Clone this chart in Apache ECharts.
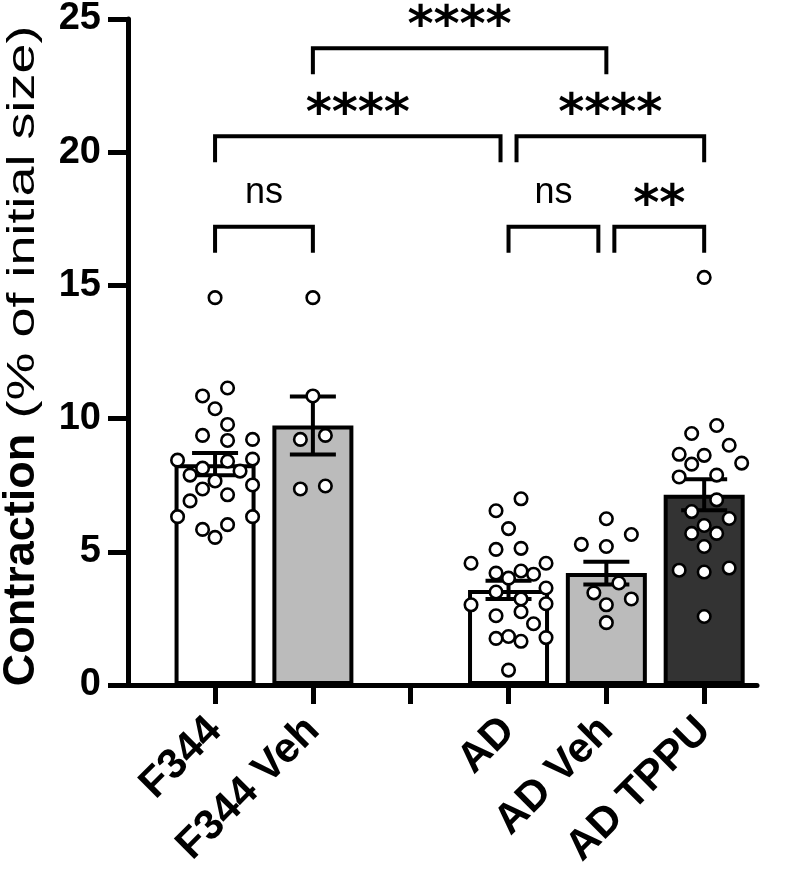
<!DOCTYPE html>
<html><head><meta charset="utf-8">
<script src="https://cdn.jsdelivr.net/npm/echarts@6/dist/echarts.min.js"></script>
<style>html,body{margin:0;padding:0;background:#fff}#c{width:800px;height:873px}</style>
</head><body><div id="c"></div>
<script>
// ---------- data ----------
const categories = ['F344', 'F344 Veh', '', 'AD', 'AD Veh', 'AD TPPU'];
const groupIndex = [0, 1, 3, 4, 5];
const barMeans = [8.29, 9.74, 3.57, 4.20, 7.14];
const barSEM = [0.42, 1.09, 0.34, 0.43, 0.58];
const barColors = ['#ffffff', '#bbbbbb', '#ffffff', '#bbbbbb', '#333333'];
const f344Points = [14.54, 11.15, 10.85, 10.37, 9.78, 9.37, 9.18, 9.22, 8.48, 8.40, 8.44, 8.03,
  8.14, 7.66, 7.88, 7.36, 7.51, 7.14, 6.91, 6.32, 6.32, 6.02, 5.84, 5.54];
const f344VehPoints = [14.54, 10.85, 9.22, 9.37, 7.36, 7.47];
const adPoints = [6.99, 6.54, 5.87, 5.09, 5.13, 4.57, 4.57, 4.20, 4.28, 4.16, 4.01, 3.64,
  3.49, 3.23, 3.01, 3.05, 2.60, 2.75, 2.30, 1.78, 1.64, 1.75, 1.82, 0.56];
const adVehPoints = [6.24, 5.65, 5.28, 5.20, 3.83, 3.46, 3.23, 3.01, 2.34];
const adTppuPoints = [15.30, 9.74, 9.44, 9.00, 8.62, 8.66, 8.33, 8.29, 7.81, 7.88, 6.95, 6.51,
  6.25, 5.99, 5.69, 5.69, 5.20, 4.39, 4.24, 4.31, 2.57];
const yTicks = [0, 5, 10, 15, 20, 25];
const bracketFrom = [1, 0, 3, 0, 3, 4];
const bracketTo = [4, 3, 5, 1, 4, 5];
const bracketY = [23.9, 20.6, 20.6, 17.2, 17.2, 17.2];
const bracketLabel = ['****', '****', '****', 'ns', 'ns', '**'];
const yTitleBold = 'Contraction';
const yTitleRest = '(% of initial size)';

// ---------- layout ----------
const W = 800, H = 873;
const GRID = { left: 128, top: 15, right: 43, bottom: 188 };
const X_MIN = -0.89, X_MAX = 5.54;
const gridW = W - GRID.left - GRID.right, gridH = H - GRID.top - GRID.bottom;
const pxX = gridW / (X_MAX - X_MIN), pxY = gridH / 25;
const FONT = '"Liberation Sans", Arial, sans-serif';

// row-based symmetric scatter placement (deterministic, computed from the values)
function swarm(values, center) {
  const step = 12.5, D = 14.5, R = 13, MAXN = 4, LIM = 3.05;
  const sorted = values.slice().sort((a, b) => b - a);
  const rows = [];
  sorted.forEach(v => {
    const r = rows[rows.length - 1];
    if (r && r.length < MAXN && (r[0] - v) * pxY < R) r.push(v); else rows.push([v]);
  });
  const placed = [], out = [];
  rows.forEach(row => {
    const n = row.length;
    const cands = [];
    [2, 3].forEach(sp => {
      const b = [];
      for (let i = 0; i < n; i++) b.push((i - (n - 1) / 2) * sp);
      const sl = b.sort((a, c) => Math.abs(c) - Math.abs(a) || c - a);
      [0, 1, -1, 2, -2, 3, -3].forEach(s => cands.push(sl.map(o => o + s)));
    });
    let best = null, bestScore = -1;
    for (const c of cands) {
      if (c.some(o => Math.abs(o) > LIM)) continue;
      let md = Infinity;
      c.forEach((o, i) => {
        const x = o * step, y = row[i] * pxY;
        placed.forEach(p => { md = Math.min(md, Math.hypot(p.x - x, p.y - y)); });
      });
      if (md >= D) { best = c; break; }
      if (md > bestScore) { bestScore = md; best = c; }
    }
    best.forEach((o, i) => {
      placed.push({ x: o * step, y: row[i] * pxY });
      out.push([center + o * step / pxX, row[i]]);
    });
  });
  return out;
}
const pointGroups = [f344Points, f344VehPoints, adPoints, adVehPoints, adTppuPoints];
let scatterData = [];
pointGroups.forEach((g, gi) => { scatterData = scatterData.concat(swarm(g, groupIndex[gi])); });

const barData = barMeans.map((m, i) => ({
  value: [groupIndex[i], m],
  itemStyle: { color: barColors[i] }
}));
const errData = barMeans.map((m, i) => [groupIndex[i], m, barSEM[i]]);
const bracketData = bracketFrom.map((f, i) => [f, bracketTo[i], bracketY[i]]);

const chart = echarts.init(document.getElementById('c'), null, { renderer: 'canvas' });
chart.setOption({
  backgroundColor: '#ffffff',
  animation: false,
  grid: GRID,
  xAxis: {
    type: 'value', min: X_MIN, max: X_MAX,
    splitLine: { show: false },
    axisLine: { show: true, onZero: false, lineStyle: { color: '#000', width: 5 } },
    axisTick: { show: true, length: 19, customValues: [0, 1, 2, 3, 4, 5], lineStyle: { color: '#000', width: 5 } },
    axisLabel: {
      customValues: groupIndex, rotate: 45, margin: 39,
      formatter: v => categories[Math.round(v)],
      color: '#000', fontSize: 42, fontWeight: 'bold', fontFamily: FONT
    }
  },
  yAxis: {
    type: 'value', min: 0, max: 25, interval: 5,
    splitLine: { show: false },
    axisLine: { show: true, onZero: false, lineStyle: { color: '#000', width: 5 } },
    axisTick: { show: true, length: 20, lineStyle: { color: '#000', width: 5 } },
    axisLabel: {
      margin: 27, color: '#000', fontSize: 38, fontWeight: 'bold', fontFamily: FONT,
      formatter: v => String(yTicks[yTicks.indexOf(v)])
    }
  },
  graphic: [
    { type: 'text', x: 22, y: 560, rotation: Math.PI / 2,
      style: { text: yTitleBold, fill: '#000', font: 'bold 45px ' + FONT, align: 'center', verticalAlign: 'middle', textAlign: 'center', textVerticalAlign: 'middle' } },
    { type: 'text', x: 24, y: 222, rotation: Math.PI / 2, scaleX: 1.42,
      style: { text: yTitleRest, fill: '#000', font: '38px ' + FONT, align: 'center', verticalAlign: 'middle', textAlign: 'center', textVerticalAlign: 'middle' } }
  ],
  series: [
    {
      type: 'bar', data: barData, barWidth: 81, z: 2,
      itemStyle: { borderColor: '#000', borderWidth: 4 }
    },
    {
      type: 'custom', data: errData, z: 3,
      renderItem: (params, api) => {
        const x = api.value(0), m = api.value(1), s = api.value(2);
        const t = api.coord([x, m + s]), b = api.coord([x, m - s]);
        const half = 23, st = { stroke: '#000', lineWidth: 4 };
        return { type: 'group', children: [
          { type: 'line', shape: { x1: t[0], y1: t[1], x2: b[0], y2: b[1] }, style: st },
          { type: 'line', shape: { x1: t[0] - half, y1: t[1], x2: t[0] + half, y2: t[1] }, style: st },
          { type: 'line', shape: { x1: b[0] - half, y1: b[1], x2: b[0] + half, y2: b[1] }, style: st }
        ] };
      }
    },
    {
      type: 'scatter', data: scatterData, z: 4, symbol: 'circle', symbolSize: 12.5,
      itemStyle: { color: '#fff', borderColor: '#000', borderWidth: 2.6, opacity: 1 }
    },
    {
      type: 'custom', data: bracketData, z: 5, clip: false,
      renderItem: (params, api) => {
        const i = params.dataIndex;
        const f = api.value(0), t = api.value(1), y = api.value(2);
        let p1 = api.coord([f, y]), p2 = api.coord([t, y]);
        const gap = 8, drop = 26;
        // shorten ends shared with a neighbouring bracket on the same level
        bracketFrom.forEach((bf, j) => {
          if (j === i || bracketY[j] !== bracketY[i]) return;
          if (bracketTo[j] === f) p1 = [p1[0] + gap, p1[1]];
          if (bf === t) p2 = [p2[0] - gap, p2[1]];
        });
        const st = { stroke: '#000', lineWidth: 4, lineCap: 'butt', lineJoin: 'miter', fill: null };
        const label = bracketLabel[i];
        const cx = (p1[0] + p2[0]) / 2;
        const children = [
          { type: 'polyline', shape: { points: [[p1[0], p1[1] + drop], [p1[0], p1[1]], [p2[0], p2[1]], [p2[0], p2[1] + drop]] }, style: st }
        ];
        if (label.indexOf('*') >= 0) {
          const n = label.length, pitch = 26;
          for (let k = 0; k < n; k++) {
            children.push({ type: 'text', x: cx + (k - (n - 1) / 2) * pitch, y: p1[1] - 20,
              style: { text: '*', fill: '#000', font: 'bold 50px "DejaVu Sans", sans-serif', align: 'center', verticalAlign: 'middle', textAlign: 'center', textVerticalAlign: 'middle' } });
          }
        } else {
          children.push({ type: 'text', x: cx, y: p1[1] - 34,
            style: { text: label, fill: '#000', font: '36px ' + FONT, align: 'center', verticalAlign: 'middle', textAlign: 'center', textVerticalAlign: 'middle' } });
        }
        return { type: 'group', children };
      }
    }
  ]
});
</script></body></html>
